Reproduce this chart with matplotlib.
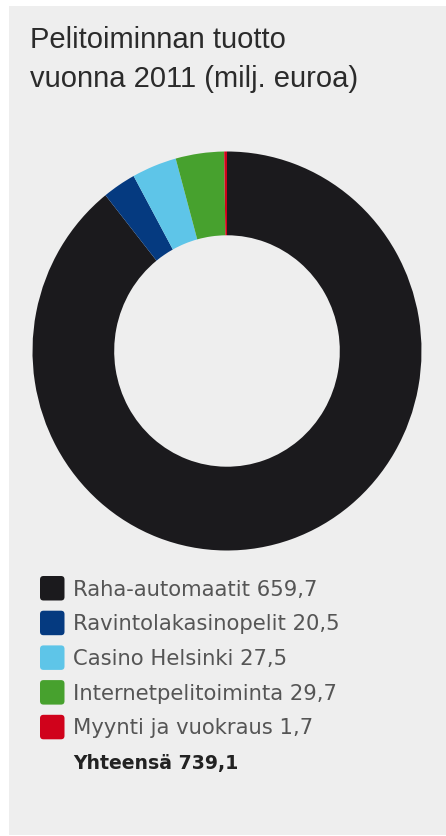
import matplotlib
matplotlib.use("Agg")
import matplotlib.pyplot as plt
from matplotlib.patches import Rectangle, FancyBboxPatch

title_lines = ["Pelitoiminnan tuotto", "vuonna 2011 (milj. euroa)"]
categories = ["Raha-automaatit", "Ravintolakasinopelit", "Casino Helsinki",
              "Internetpelitoiminta", "Myynti ja vuokraus"]
values = [659.7, 20.5, 27.5, 29.7, 1.7]
colors = ["#1b1a1d", "#053a80", "#5ec5e8", "#47a12e", "#d0021b"]
total_label = "Yhteensä"

W, H = 446, 836
fig = plt.figure(figsize=(W / 100, H / 100), dpi=100)
fig.patch.set_facecolor("white")

# background panel (pixel coordinates)
bg = fig.add_axes([0, 0, 1, 1])
bg.set_xlim(0, W)
bg.set_ylim(H, 0)
bg.axis("off")
bg.add_patch(Rectangle((8.5, 5.5), W, 829.5, facecolor="#eeeeee", edgecolor="none"))

# donut
cx, cy, rx, ry = 227, 351, 194.5, 199.5
ax = fig.add_axes([(cx - rx) / W, (H - cy - ry) / H, 2 * rx / W, 2 * ry / H])
ax.pie(values, colors=colors, startangle=90, counterclock=False,
       wedgeprops=dict(width=0.42, edgecolor="none", linewidth=0))
ax.set_aspect("auto")
ax.set_xlim(-1, 1)
ax.set_ylim(-1, 1)
ax.axis("off")

# overlay for texts
ov = fig.add_axes([0, 0, 1, 1])
ov.set_xlim(0, W)
ov.set_ylim(H, 0)
ov.axis("off")

for i, line in enumerate(title_lines):
    ov.text(30, 48 + i * 39, line, fontsize=21, family="Liberation Sans",
            color="#2b2b2b", va="baseline", ha="left")

def fmt(v):
    return f"{v:.1f}".replace(".", ",")

y0, dy = 588, 34.7
for i, (cat, val, col) in enumerate(zip(categories, values, colors)):
    y = y0 + i * dy
    ov.add_patch(FancyBboxPatch((40, y - 12), 24.5, 24.5,
                                boxstyle="round,pad=0,rounding_size=3.5",
                                facecolor=col, edgecolor="none"))
    ov.text(73, y + 7.5, f"{cat} {fmt(val)}", fontsize=15.2, family="DejaVu Sans",
            color="#555555", va="baseline", ha="left")

ov.text(73, y0 + len(values) * dy + 7.5, f"{total_label} {fmt(sum(values))}",
        fontsize=13.6, family="DejaVu Sans", fontweight="bold",
        color="#222222", va="baseline", ha="left")

fig.savefig("out.png", dpi=100)
